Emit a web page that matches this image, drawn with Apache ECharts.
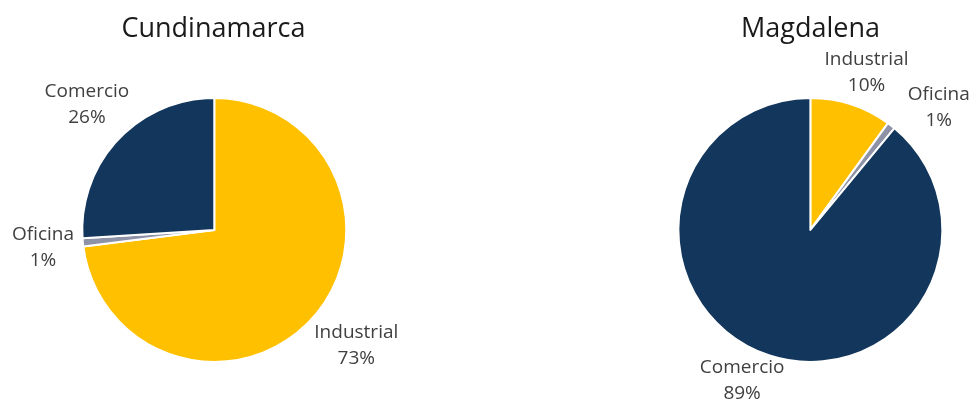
<!DOCTYPE html>
<html>
<head>
<meta charset="utf-8">
<script src="https://cdn.jsdelivr.net/npm/echarts@6/dist/echarts.min.js"></script>
<style>
  html, body { margin: 0; padding: 0; background: #fff; }
  #chart { width: 974px; height: 402px; }
</style>
</head>
<body>
<div id="chart"></div>
<script>
// Share of each use type per department (percent)
const categories = ['Industrial', 'Oficina', 'Comercio'];
const cundinamarca = [73, 1, 26];
const magdalena = [10, 1, 89];
const regions = ['Cundinamarca', 'Magdalena'];

const colors = ['#FFC000', '#8E92A6', '#12365C'];
const FONT = '"Open Sans", sans-serif';

// Small label nudges (px) per pie and slice, so labels sit clear of each other
const labelNudge = [
  [[8, 2], [5, 1], [3, -8]],
  [[-2, 6], [18, 14], [-5, -11]]
];

function pieSeries(name, values, cx) {
  return {
    name: name,
    type: 'pie',
    center: [cx, '57.2%'],
    radius: 132,
    startAngle: 90,
    clockwise: true,
    avoidLabelOverlap: false,
    animation: false,
    data: categories.map((c, i) => ({ name: c, value: values[i] })),
    itemStyle: { borderColor: '#ffffff', borderWidth: 2 },
    label: {
      show: true,
      position: 'outside',
      formatter: '{b}\n{d}%',
      fontFamily: FONT,
      fontSize: 19,
      lineHeight: 26,
      color: '#404040'
    },
    labelLine: { show: false, length: 40, length2: 0 },
    labelLayout: function (p) {
      const n = labelNudge[p.seriesIndex][p.dataIndex];
      return { align: 'center', verticalAlign: 'middle', dx: n[0], dy: n[1], hideOverlap: false };
    },
    emphasis: { disabled: true }
  };
}

const chart = echarts.init(document.getElementById('chart'), null, { renderer: 'canvas' });
chart.setOption({
  backgroundColor: '#ffffff',
  color: colors,
  title: [
    { text: regions[0], left: '21.4%', top: 11, textAlign: 'center',
      textStyle: { fontFamily: FONT, fontSize: 27, fontWeight: 'normal', color: '#1a1a1a' } },
    { text: regions[1], left: '82.7%', top: 11, textAlign: 'center',
      textStyle: { fontFamily: FONT, fontSize: 27, fontWeight: 'normal', color: '#1a1a1a' } }
  ],
  series: [
    pieSeries(regions[0], cundinamarca, '22%'),
    pieSeries(regions[1], magdalena, '83.2%')
  ]
});
</script>
</body>
</html>
